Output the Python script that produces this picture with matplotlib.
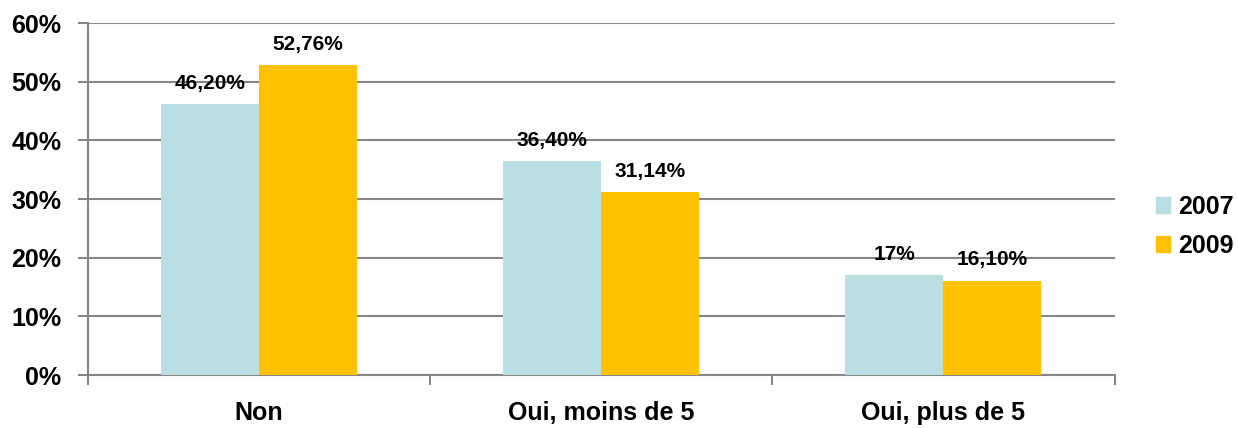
import numpy as np
from matplotlib import pyplot as plt
from matplotlib.patches import Patch
from matplotlib.ticker import FixedLocator

categories = ["Non", "Oui, moins de 5", "Oui, plus de 5"]
series_names = ["2007", "2009"]
values_2007 = [46.20, 36.40, 17.0]
values_2009 = [52.76, 31.14, 16.10]
labels_2007 = ["46,20%", "36,40%", "17%"]
labels_2009 = ["52,76%", "31,14%", "16,10%"]
y_ticks = [0, 10, 20, 30, 40, 50, 60]


def main():
    plt.rcParams["font.family"] = ["Liberation Sans", "DejaVu Sans"]
    plt.rcParams["font.weight"] = "bold"

    figure = plt.figure(figsize=(12.38, 4.28), dpi=100)
    axis = figure.add_axes([0.0707, 0.1238, 0.8296, 0.8224])

    x = np.arange(len(categories))
    width = 0.286
    colors = ["#BADFE2", "#FFC000"]

    bars_a = axis.bar(x - width / 2, values_2007, width, color=colors[0], zorder=3)
    bars_b = axis.bar(x + width / 2, values_2009, width, color=colors[1], zorder=3)

    for bars, labels in ((bars_a, labels_2007), (bars_b, labels_2009)):
        for bar, text in zip(bars, labels):
            axis.annotate(
                text,
                (bar.get_x() + bar.get_width() / 2, bar.get_height()),
                xytext=(0, 8),
                textcoords="offset points",
                ha="center",
                va="bottom",
                fontsize=15,
                fontweight="bold",
            )

    axis.set_xlim(-0.5, len(categories) - 0.5)
    axis.set_ylim(0, 60)
    axis.set_yticks(y_ticks)
    axis.set_yticklabels([f"{t}%" for t in y_ticks], fontsize=18, fontweight="bold")
    axis.set_xticks(x)
    axis.set_xticklabels(categories, fontsize=18, fontweight="bold")
    axis.tick_params(axis="x", which="major", length=0, pad=19)
    axis.xaxis.set_minor_locator(FixedLocator([-0.5, 0.5, 1.5, 2.5]))
    axis.tick_params(axis="x", which="minor", length=7, width=1.5, color="#868686")
    axis.tick_params(axis="y", length=7, width=1.5, color="#868686", pad=12)

    axis.grid(True, axis="y", color="#868686", linewidth=1.5, zorder=0)
    axis.set_axisbelow(True)
    for side in ("top", "right"):
        axis.spines[side].set_visible(False)
    for side in ("left", "bottom"):
        axis.spines[side].set_color("#868686")
        axis.spines[side].set_linewidth(1.5)

    handles = [Patch(color=c) for c in colors]
    figure.legend(
        handles,
        series_names,
        loc="center left",
        bbox_to_anchor=(0.934, 0.471),
        frameon=False,
        borderpad=0,
        borderaxespad=0,
        handlelength=0.56,
        handleheight=0.56,
        handletextpad=0.3,
        labelspacing=0.6,
        prop={"weight": "bold", "size": 18},
    )

    figure.savefig("out.png", dpi=100)


main()
